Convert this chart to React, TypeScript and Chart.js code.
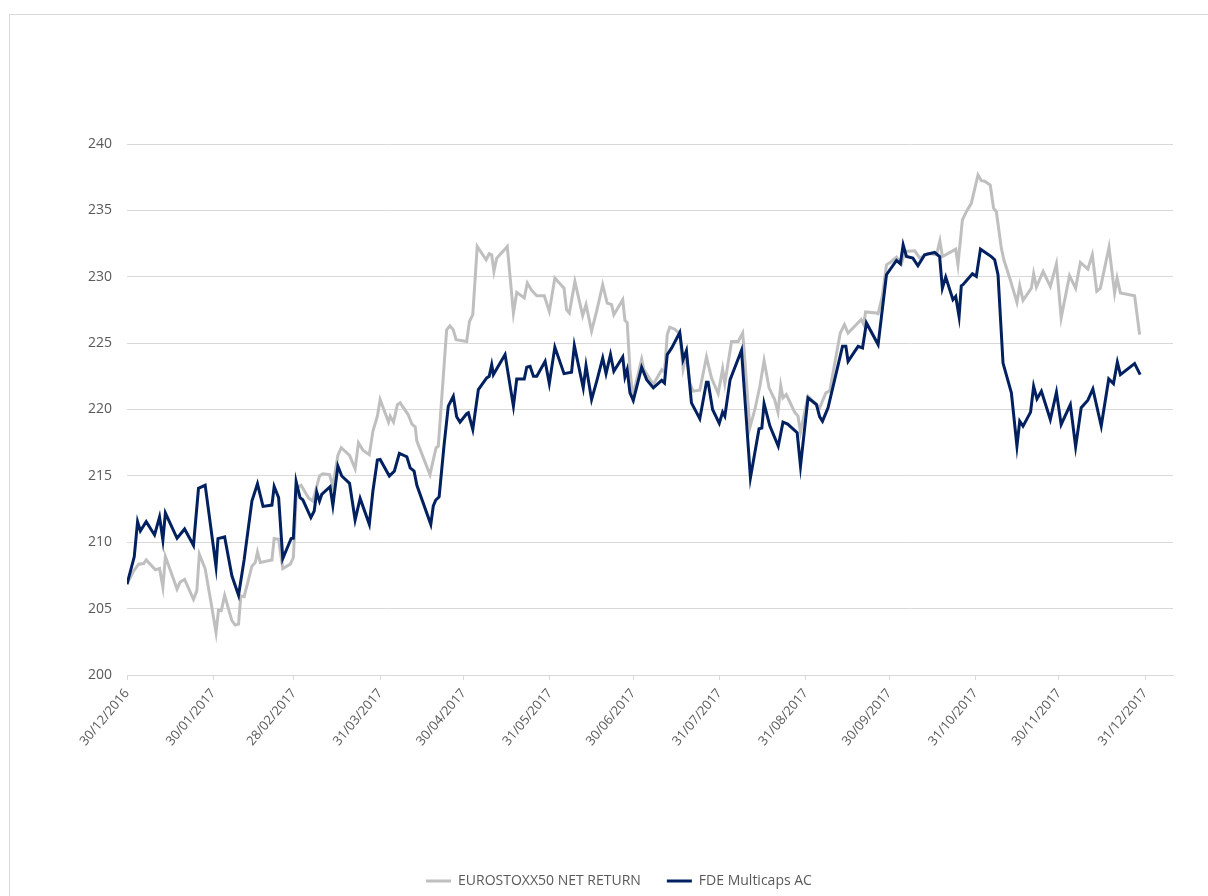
import React, { useEffect, useRef } from "react";
import { Chart, registerables } from "chart.js";

Chart.register(...registerables);

// x values are days counted from 30/12/2016
const tickDays = [0, 31, 60, 91, 121, 152, 182, 213, 244, 274, 305, 335, 366];
const tickLabels = [
  "30/12/2016", "30/01/2017", "28/02/2017", "31/03/2017", "30/04/2017", "31/05/2017",
  "30/06/2017", "31/07/2017", "31/08/2017", "30/09/2017", "31/10/2017", "30/11/2017", "31/12/2017",
];

const euroDays = [
  0, 2.4, 4.2, 6.0, 6.9, 10.2, 11.7, 12.9, 13.8, 18.0, 19.1, 20.7, 23.9, 25.1, 26.0, 28.1, 30.2, 32.0, 32.9, 33.9,
  35.1, 37.7, 38.9, 40.1, 40.9, 42.1, 44.9, 46.1, 46.9, 47.9, 52.1, 52.9, 54.5, 56.0, 58.7, 59.8, 61.0, 62.6, 65.2, 66.8,
  69.2, 70.4, 72.8, 74.0, 75.8, 77.0, 80.0, 82.0, 83.2, 84.8, 87.1, 88.4, 90.0, 91.0, 94.0, 94.6, 95.8, 97.2, 98.2, 101.1,
  102.4, 103.6, 104.2, 108.9, 111.1, 111.9, 114.9, 116.1, 117.3, 118.3, 122.1, 123.1, 124.3, 125.9, 129.1, 130.2, 131.1, 131.9, 132.9, 136.7,
  138.9, 140.1, 142.8, 143.9, 145.5, 147.3, 150.0, 151.8, 153.8, 157.1, 158.0, 159.0, 161.0, 163.8, 165.0, 167.0, 168.8, 171.0, 172.6, 174.2,
  175.0, 178.2, 179.0, 179.8, 180.8, 181.8, 183.4, 185.0, 185.8, 187.7, 189.2, 192.2, 193.2, 194.2, 195.1, 196.9, 198.7, 199.9, 201.1, 202.3,
  203.5, 205.9, 208.3, 210.1, 212.5, 214.1, 214.9, 217.3, 219.7, 221.3, 221.7, 223.9, 225.7, 227.5, 229.0, 230.8, 232.8, 234.0, 235.0, 235.8,
  237.0, 240.0, 241.2, 242.1, 244.8, 249.0, 251.2, 252.6, 256.4, 257.9, 259.2, 262.1, 263.9, 264.8, 265.5, 269.4, 270.0, 271.5, 273.0, 274.8,
  276.6, 278.4, 279.6, 283.2, 285.0, 288.0, 291.0, 292.2, 293.1, 297.9, 298.7, 300.3, 301.7, 303.5, 305.9, 307.1, 308.3, 310.3, 311.5, 312.5,
  314.3, 315.2, 317.3, 319.9, 320.9, 322.1, 325.1, 325.9, 326.9, 329.3, 331.9, 334.1, 335.8, 338.8, 341.0, 342.7, 345.4, 347.0, 348.6, 349.9,
  353.0, 355.0, 355.9, 357.1, 362.2, 364.0,
];
const euroValues = [
  206.84, 207.84, 208.35, 208.4, 208.67, 207.92, 208.02, 206.6, 208.92, 206.47, 207.0, 207.2, 205.7, 206.34, 209.1, 208.0, 205.46, 203.2, 204.89, 204.84,
  206.0, 204.1, 203.76, 203.83, 205.96, 205.9, 208.2, 208.47, 209.27, 208.47, 208.67, 210.28, 210.23, 208.02, 208.35, 208.85, 214.1, 214.29, 213.36, 213.1,
  215.0, 215.16, 215.1, 214.23, 216.54, 217.12, 216.54, 215.54, 217.49, 216.94, 216.6, 218.37, 219.5, 220.75, 219.05, 219.5, 219.05, 220.37, 220.5, 219.6,
  218.9, 218.7, 217.62, 215.1, 217.12, 217.24, 226.0, 226.3, 226.0, 225.26, 225.13, 226.63, 227.14, 232.28, 231.28, 231.73, 231.65, 230.4, 231.4, 232.28,
  227.27, 228.82, 228.4, 229.52, 228.97, 228.57, 228.57, 227.39, 229.9, 229.14, 227.52, 227.27, 229.64, 227.07, 227.9, 225.9, 227.39, 229.4, 228.02, 227.9,
  227.14, 228.27, 226.7, 226.56, 223.0, 221.0, 222.38, 223.8, 223.0, 222.38, 221.88, 223.0, 222.8, 225.64, 226.2, 226.05, 225.7, 223.06, 224.14, 222.0,
  221.38, 221.45, 223.96, 222.38, 221.2, 223.06, 221.95, 225.13, 225.13, 225.76, 224.8, 218.62, 220.0, 221.75, 223.68, 221.63, 220.75, 219.8, 221.8, 220.88,
  221.13, 219.8, 219.5, 218.3, 221.0, 220.13, 221.25, 221.4, 225.76, 226.39, 225.76, 226.39, 226.77, 226.4, 227.35, 227.27, 227.22, 228.52, 230.9, 231.15,
  231.48, 230.98, 231.9, 231.95, 231.4, 231.77, 231.65, 232.7, 231.52, 232.08, 230.9, 234.29, 234.9, 235.53, 237.67, 237.24, 237.2, 236.9, 235.16, 234.9,
  232.14, 231.28, 229.9, 228.07, 229.32, 228.22, 229.14, 230.23, 229.22, 230.4, 229.27, 230.98, 226.9, 230.08, 229.14, 231.08, 230.58, 231.65, 228.9, 229.14,
  232.23, 228.77, 229.9, 228.77, 228.57, 225.64,
];

const fdeDays = [
  0, 2.6, 3.8, 4.8, 6.9, 9.9, 11.7, 12.9, 13.8, 18.0, 20.7, 23.9, 25.7, 28.1, 32.0, 32.7, 35.1, 37.7, 40.1, 42.1,
  44.9, 46.9, 48.9, 52.1, 52.9, 54.5, 56.0, 59.0, 59.8, 60.8, 62.2, 63.2, 66.1, 67.3, 68.2, 69.2, 70.0, 73.0, 74.0, 75.8,
  77.2, 80.0, 82.0, 83.8, 87.1, 88.4, 90.0, 91.0, 94.3, 96.1, 97.9, 100.6, 101.8, 103.2, 104.2, 109.2, 110.1, 111.0, 112.2, 114.0,
  115.5, 117.3, 118.5, 119.7, 122.1, 122.7, 124.3, 126.3, 129.3, 130.2, 131.1, 131.7, 135.9, 138.9, 140.1, 142.8, 143.7, 144.9, 146.1, 147.3,
  150.3, 151.8, 153.8, 157.1, 159.8, 160.8, 164.0, 165.0, 167.0, 169.0, 171.0, 172.2, 173.8, 175.0, 178.2, 179.0, 179.8, 180.8, 182.0, 185.0,
  186.8, 189.2, 192.2, 193.2, 194.2, 195.8, 198.7, 199.9, 201.1, 202.9, 205.9, 208.3, 208.9, 210.5, 212.9, 214.1, 214.9, 216.8, 220.9, 224.1,
  227.2, 228.2, 229.0, 231.1, 234.1, 235.8, 237.5, 240.9, 242.1, 244.8, 247.8, 249.0, 250.0, 252.0, 257.2, 258.4, 259.2, 262.8, 264.4, 265.8,
  270.0, 271.2, 273.0, 276.6, 278.0, 279.0, 280.2, 282.5, 284.3, 286.7, 290.3, 292.1, 293.1, 294.3, 296.9, 297.9, 299.1, 299.9, 300.5, 303.9,
  305.3, 306.8, 310.7, 311.9, 313.1, 314.9, 317.9, 319.9, 320.9, 322.1, 324.8, 325.9, 327.1, 328.7, 331.9, 334.1, 335.8, 339.1, 341.0, 343.0,
  345.4, 347.2, 350.2, 352.9, 354.6, 356.0, 357.1, 362.2, 364.2,
];
const fdeValues = [
  206.84, 208.9, 211.55, 210.85, 211.55, 210.55, 211.9, 210.17, 212.2, 210.3, 211.0, 209.77, 214.06, 214.3, 208.17, 210.27, 210.4, 207.47, 206.0, 208.67,
  213.1, 214.4, 212.7, 212.8, 214.2, 213.36, 208.77, 210.28, 210.3, 214.56, 213.36, 213.2, 211.86, 212.35, 213.78, 213.1, 213.6, 214.18, 212.78, 215.74,
  214.99, 214.44, 211.68, 213.3, 211.35, 213.86, 216.2, 216.24, 214.99, 215.36, 216.7, 216.44, 215.6, 215.36, 214.29, 211.35, 212.73, 213.18, 213.43, 217.37,
  220.25, 221.0, 219.45, 219.05, 219.68, 219.75, 218.5, 221.5, 222.38, 222.5, 223.38, 222.63, 224.14, 220.25, 222.3, 222.3, 223.18, 223.25, 222.5, 222.5,
  223.63, 221.95, 224.7, 222.7, 222.8, 224.83, 221.63, 223.3, 220.75, 222.25, 223.88, 222.7, 224.14, 222.88, 223.96, 222.46, 223.0, 221.25, 220.68, 223.18,
  222.25, 221.63, 222.2, 222.0, 224.14, 224.64, 225.8, 223.76, 224.44, 220.5, 219.3, 222.05, 222.05, 220.0, 218.95, 219.8, 219.5, 222.25, 224.46, 214.86,
  218.55, 218.6, 220.45, 218.75, 217.24, 219.05, 218.9, 218.25, 215.74, 220.88, 220.38, 219.45, 219.12, 220.13, 224.76, 224.76, 223.63, 224.76, 224.64, 226.52,
  224.89, 227.0, 230.15, 231.23, 230.98, 232.4, 231.52, 231.4, 230.83, 231.65, 231.83, 231.52, 229.14, 229.97, 228.27, 228.52, 227.0, 229.32, 229.4, 230.23,
  230.03, 232.08, 231.52, 231.28, 230.15, 223.5, 221.25, 217.24, 219.12, 218.75, 219.8, 221.75, 220.8, 221.38, 219.25, 221.3, 218.87, 220.37, 217.19, 220.13,
  220.7, 221.55, 218.75, 222.3, 221.95, 223.57, 222.63, 223.46, 222.63,
];

const seriesNames = ["EUROSTOXX50 NET RETURN", "FDE Multicaps AC"];
const seriesColors = ["#BFBFBF", "#002060"];

const FONT = "'Open Sans', 'Liberation Sans', sans-serif";
const TEXT = "#595959";
const GRID = "#D9D9D9";

export default function App() {
  const canvasRef = useRef<HTMLCanvasElement | null>(null);

  useEffect(() => {
    const canvas = canvasRef.current;
    if (!canvas) return;
    const toPoints = (xs: number[], ys: number[]) => xs.map((x, i) => ({ x, y: ys[i] }));
    const chart = new Chart(canvas, {
      type: "line",
      data: {
        datasets: [
          {
            label: seriesNames[0],
            data: toPoints(euroDays, euroValues),
            borderColor: seriesColors[0],
            backgroundColor: seriesColors[0],
            borderWidth: 3,
            pointRadius: 0,
            tension: 0,
            order: 1,
          },
          {
            label: seriesNames[1],
            data: toPoints(fdeDays, fdeValues),
            borderColor: seriesColors[1],
            backgroundColor: seriesColors[1],
            borderWidth: 3,
            pointRadius: 0,
            tension: 0,
            order: 0,
          },
        ],
      },
      options: {
        animation: false,
        responsive: true,
        maintainAspectRatio: false,
        layout: { padding: { left: 65, right: 35, top: 144, bottom: 0 } },
        plugins: {
          tooltip: { enabled: false },
          legend: {
            position: "bottom",
            align: "center",
            labels: {
              usePointStyle: true,
              pointStyle: "line",
              pointStyleWidth: 25,
              padding: 26,
              color: TEXT,
              font: { family: FONT, size: 14 },
              sort: (a: any, b: any) => a.datasetIndex - b.datasetIndex,
            },
          },
        },
        scales: {
          x: {
            type: "linear",
            min: 0,
            max: 376,
            afterBuildTicks: (scale: any) => {
              scale.ticks = tickDays.map((v) => ({ value: v }));
            },
            afterFit: (scale: any) => {
              scale.height = 173;
            },
            ticks: {
              autoSkip: false,
              minRotation: 50,
              maxRotation: 50,
              padding: 6,
              color: TEXT,
              font: { family: FONT, size: 13 },
              callback: (value: any) => {
                const i = tickDays.indexOf(Number(value));
                return i >= 0 ? tickLabels[i] : "";
              },
            },
            grid: {
              drawOnChartArea: false,
              drawTicks: true,
              tickLength: 5,
              color: GRID,
              lineWidth: 1,
            },
            border: { display: true, color: GRID, width: 1 },
          },
          y: {
            type: "linear",
            min: 200,
            max: 240,
            afterFit: (scale: any) => {
              scale.width = 62;
            },
            ticks: {
              stepSize: 5,
              padding: 15,
              color: TEXT,
              font: { family: FONT, size: 14 },
            },
            grid: { color: GRID, lineWidth: 1, drawTicks: false },
            border: { display: false },
          },
        },
      },
    });
    return () => chart.destroy();
  }, []);

  return (
    <div
      style={{
        position: "fixed",
        left: 0,
        top: 0,
        width: 1208,
        height: 896,
        overflow: "hidden",
        background: "#ffffff",
      }}
    >
      <div
        style={{
          position: "absolute",
          left: 9,
          top: 14,
          width: 1300,
          height: 1000,
          border: "1px solid #D9D9D9",
          boxSizing: "border-box",
        }}
      />
      <div style={{ position: "absolute", left: 0, top: 0, width: 1208, height: 898 }}>
        <canvas ref={canvasRef} />
      </div>
    </div>
  );
}
